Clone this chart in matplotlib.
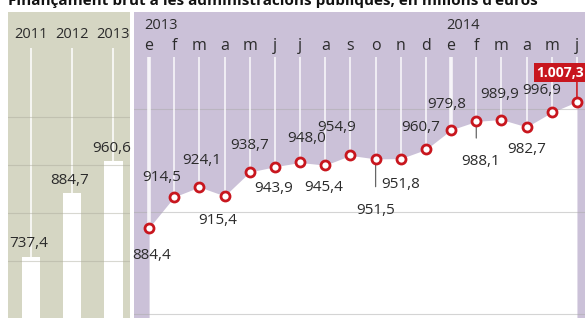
import matplotlib.pyplot as plt
import matplotlib.transforms as mtransforms

plt.rcParams['font.family'] = ['Open Sans', 'DejaVu Sans']

title = "Finançament brut a les administracions públiques, en milions d'euros"

years = ["2011", "2012", "2013"]
year_values = [737.4, 884.7, 960.6]

months = ["e", "f", "m", "a", "m", "j", "j", "a", "s", "o", "n", "d",
          "e", "f", "m", "a", "m", "j"]
month_values = [884.4, 914.5, 924.1, 915.4, 938.7, 943.9, 948.0, 945.4, 954.9,
                951.5, 951.8, 960.7, 979.8, 988.1, 989.9, 982.7, 996.9, 1007.3]
month_labels = ["884,4", "914,5", "924,1", "915,4", "938,7", "943,9", "948,0",
                "945,4", "954,9", "951,5", "951,8", "960,7", "979,8", "988,1",
                "989,9", "982,7", "996,9", "1.007,3"]
year_labels = ["737,4", "884,7", "960,6"]

KHAKI = '#d5d6c3'
LAVENDER = '#cbc1d8'
RED = '#c8161e'
TXT = '#2b2b2b'

W, H = 585, 318
fig = plt.figure(figsize=(W / 100, H / 100), dpi=100)


def px_axes(x0, x1, y0, y1):
    # pixel box (top-left origin) -> figure axes
    return fig.add_axes([x0 / W, 1 - y1 / H, (x1 - x0) / W, (y1 - y0) / H])


fig.text(8 / W, 1 - 5 / H, title, fontsize=11, fontweight='bold',
         color='#111111', va='baseline', ha='left')

# ---- left panel: yearly bars ----
axl = px_axes(8, 130, 12, 318)
axl.set_facecolor(KHAKI)
axl.set_xlim(-0.55, 2.4)
axl.set_ylim(594, 1308)
xs = range(len(years))
axl.bar(xs, year_values, width=0.44, bottom=0, color='white', zorder=2)
axl.vlines(xs, year_values, 1225, color='white', lw=1.4, alpha=0.8, zorder=1)
for g in [727, 839, 951, 1063]:
    axl.axhline(g, color='#a9a99a', lw=0.8, alpha=0.45, zorder=3)
tl = mtransforms.blended_transform_factory(axl.transData, axl.transAxes)
for i, (y, v, lab) in enumerate(zip(years, year_values, year_labels)):
    axl.text(i, 0.925, y, transform=tl, ha='center', va='center',
             fontsize=10.5, color=TXT)
    axl.text(i - 0.05, v + 12, lab, ha='center', va='bottom',
             fontsize=11, color=TXT, zorder=4)
axl.set_xticks([])
axl.set_yticks([])
for s in axl.spines.values():
    s.set_visible(False)

# ---- right panel: monthly series ----
axr = px_axes(134, 585, 12, 318)
axr.set_facecolor(LAVENDER)
axr.set_xlim(-0.6, 17.32)
axr.set_ylim(796.3, 1094.8)
xm = list(range(len(months)))
axr.fill_between(xm, month_values, 790, color='white', lw=0, zorder=1)
for g in [800, 900, 1000]:
    axr.axhline(g, color='#aaaaaa', lw=0.8, alpha=0.5, zorder=2)
lw = [2.6 if i in (0, 12) else 1.2 for i in xm]
axr.vlines(xm, month_values, 1051, color='white', lw=lw, alpha=0.85, zorder=2)
axr.plot(xm, month_values, ls='none', marker='o', ms=6.5, mfc='white',
         mec=RED, mew=2, zorder=5, clip_on=False)

tr = mtransforms.blended_transform_factory(axr.transData, axr.transAxes)
for i, m in enumerate(months):
    axr.text(i, 0.89, m, transform=tr, ha='center', va='center',
             fontsize=11.5, color=TXT)
axr.text(-0.2, 0.955, "2013", transform=tr, ha='left', va='center',
         fontsize=10.5, color=TXT)
axr.text(11.8, 0.955, "2014", transform=tr, ha='left', va='center',
         fontsize=10.5, color=TXT)

# label offsets (in points) relative to each marker
offsets = [(2, -20), (-9, 14), (2, 19), (-5, -18), (0, 19), (-1, -16),
           (5, 17), (-1, -16), (-10, 20), (0, -37), (0, -19), (-4, 16),
           (-3, 18), (3, -29), (-1, 18), (0, -16), (-7, 16)]
for i, (v, lab) in enumerate(zip(month_values[:-1], month_labels[:-1])):
    dx, dy = offsets[i]
    axr.annotate(lab, (i, v), xytext=(dx, dy), textcoords='offset points',
                 ha='center', va='center', fontsize=11, color=TXT, zorder=6)
# leader ticks for labels hanging far below
for i in (9, 13):
    axr.annotate('', (i, month_values[i]), xytext=(0, -20 if i == 9 else -12),
                 textcoords='offset points',
                 arrowprops=dict(arrowstyle='-', color='#666666', lw=0.9,
                                 shrinkA=0, shrinkB=3), zorder=4)
last = len(month_values) - 1
axr.annotate('', (last, month_values[last]), xytext=(0, 16),
             textcoords='offset points', annotation_clip=False,
             arrowprops=dict(arrowstyle='-', color=RED, lw=1.2,
                             shrinkA=0, shrinkB=3), zorder=6)
axr.annotate(month_labels[last], (last, month_values[last]), xytext=(-12, 21),
             textcoords='offset points', ha='center', va='center',
             fontsize=10, fontweight='bold', color='white', zorder=7,
             annotation_clip=False,
             bbox=dict(boxstyle='square,pad=0.2', fc=RED, ec='none'))
axr.set_xticks([])
axr.set_yticks([])
for s in axr.spines.values():
    s.set_visible(False)

fig.savefig('out.png', dpi=100, facecolor='white')
